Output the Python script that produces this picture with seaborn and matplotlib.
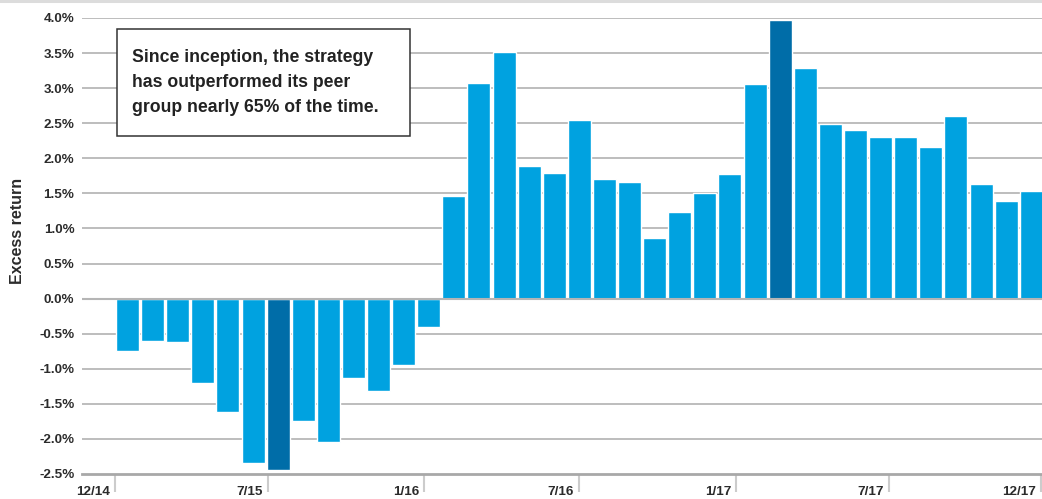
import matplotlib
matplotlib.use("Agg")
import matplotlib.pyplot as plt
import matplotlib.transforms as mtransforms
from matplotlib.lines import Line2D
from matplotlib.patches import Rectangle
import seaborn as sns
import pandas as pd

# monthly excess return, 12/14 .. 12/17 (percent)
months = ["12/14", "1/15", "2/15", "3/15", "4/15", "5/15", "6/15", "7/15", "8/15",
          "9/15", "10/15", "11/15", "12/15", "1/16", "2/16", "3/16", "4/16", "5/16",
          "6/16", "7/16", "8/16", "9/16", "10/16", "11/16", "12/16", "1/17", "2/17",
          "3/17", "4/17", "5/17", "6/17", "7/17", "8/17", "9/17", "10/17", "11/17", "12/17"]
excess = [-0.74, -0.60, -0.62, -1.20, -1.61, -2.34, -2.45, -1.75, -2.05, -1.13,
          -1.31, -0.94, -0.40, 1.46, 3.07, 3.51, 1.89, 1.79, 2.54, 1.70, 1.66,
          0.86, 1.23, 1.50, 1.77, 3.06, 3.97, 3.29, 2.49, 2.41, 2.31, 2.30, 2.16,
          2.60, 1.63, 1.39, 1.54]

tick_labels = ["12/14", "7/15", "1/16", "7/16", "1/17", "7/17", "12/17"]
tick_pos = [-0.5, 5.6, 11.81, 17.99, 24.24, 30.34, 36.4]
y_ticks = [-2.5, -2.0, -1.5, -1.0, -0.5, 0.0, 0.5, 1.0, 1.5, 2.0, 2.5, 3.0, 3.5, 4.0]

df = pd.DataFrame({"month": months, "excess": excess})
# worst and best month are highlighted
extremes = {df["excess"].idxmin(), df["excess"].idxmax()}
df["group"] = ["hi" if i in extremes else "base" for i in df.index]

light = "#00a2e0"
dark = "#006da8"
grid_c = "#ababab"
text_c = "#2b2b2b"

sns.set_theme(style="white")
plt.rcParams["font.family"] = ["Liberation Sans", "DejaVu Sans"]
plt.rcParams["font.weight"] = "bold"

fig = plt.figure(figsize=(10.42, 4.99), dpi=100)
ax = fig.add_axes([82 / 1042, 1 - 474 / 499, 960 / 1042, (474 - 18) / 499])

sns.barplot(data=df, x="month", y="excess", hue="group", order=months,
            palette={"base": light, "hi": dark}, dodge=False, width=0.916,
            saturation=1, legend=False, ax=ax, zorder=3)

ax.set_xlim(-1.815, 36.43)
ax.set_ylim(-2.5, 4.0)

for v in y_ticks:
    if v > -2.5:
        ax.axhline(v, color=grid_c, lw=1.1, zorder=1)
ax.axhline(0, color="#b5b5b5", lw=1.5, zorder=4)

for s in ["top", "right", "left"]:
    ax.spines[s].set_visible(False)
ax.spines["bottom"].set_color("#a8a8a8")
ax.spines["bottom"].set_linewidth(2)

ax.set_yticks(y_ticks)
ax.set_yticklabels([f"{v:.1f}%" for v in y_ticks])
ax.tick_params(axis="y", length=0, pad=5.5, labelsize=9.7, labelcolor=text_c)

ax.set_xticks(tick_pos)
ax.set_xticklabels(tick_labels)
ax.tick_params(axis="x", direction="out", length=13, width=1.5, color="#cccccc",
               pad=-4.6, labelsize=9.7, labelcolor=text_c, bottom=True)
shift = mtransforms.ScaledTranslation(-5 / 100, 0, fig.dpi_scale_trans)
for lab in ax.get_xticklabels():
    lab.set_horizontalalignment("right")
    lab.set_transform(lab.get_transform() + shift)

ax.set_xlabel("")
ax.set_ylabel("")
fig.text(18 / 1042, 1 - 231 / 499, "Excess return", rotation=90, ha="center",
         va="center", fontsize=11.5, fontweight="bold", color=text_c)

# call-out box
fig.add_artist(Rectangle((117 / 1042, 1 - 136 / 499), (410 - 117) / 1042, (136 - 29) / 499,
                         transform=fig.transFigure, facecolor="white",
                         edgecolor="#333333", linewidth=1.1, zorder=6))
fig.text(132 / 1042, 1 - 82.5 / 499,
         "Since inception, the strategy\nhas outperformed its peer\ngroup nearly 65% of the time.",
         ha="left", va="center", fontsize=12.7, fontweight="bold",
         color="#222222", linespacing=1.6, zorder=7)

fig.add_artist(Line2D([0, 1], [1 - 1.2 / 499, 1 - 1.2 / 499], color="#dcdcdc", lw=2.2))

fig.savefig("out.png", dpi=100)
